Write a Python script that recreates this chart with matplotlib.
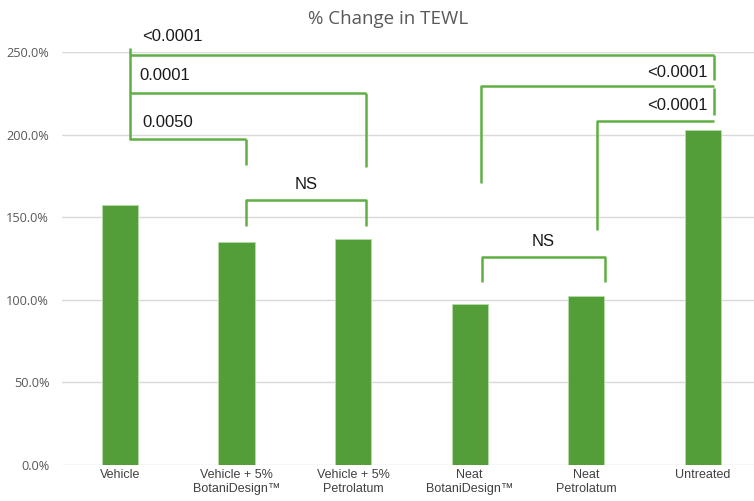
import matplotlib.pyplot as plt
from matplotlib.ticker import FuncFormatter

# data
categories = ["Vehicle", "Vehicle + 5%\nBotaniDesign\u2122", "Vehicle + 5%\nPetrolatum",
              "Neat\nBotaniDesign\u2122", "Neat\nPetrolatum", "Untreated"]
values = [157.4, 135.0, 136.8, 97.5, 102.3, 202.8]
y_ticks = [0, 50, 100, 150, 200, 250]

# significance labels
p_labels = ["<0.0001", "0.0001", "0.0050", "NS", "<0.0001", "<0.0001", "NS"]

bar_color = "#549E39"
line_color = "#5FAF43"

fig = plt.figure(figsize=(7.54, 5.01), dpi=100)
ax = fig.add_axes([61.7 / 754, 36 / 501, (754 - 61.7) / 754, 413 / 501])

x = list(range(len(categories)))
ax.bar(x, values, width=0.31, color=bar_color, edgecolor="#B7DCA8", linewidth=0.6, zorder=3)

ax.set_xlim(-0.5, 5.44)
ax.set_ylim(0, 250)
ax.set_yticks(y_ticks)
ax.yaxis.set_major_formatter(FuncFormatter(lambda v, p: f"{v:.1f}%"))
ax.set_xticks(x)
ax.set_xticklabels(categories, fontfamily="Liberation Sans", fontsize=9, color="#404040")
ax.tick_params(axis="y", length=0, pad=9, labelsize=9.2, labelcolor="#595959")
ax.tick_params(axis="x", length=0, pad=3)
for lab in ax.get_yticklabels():
    lab.set_fontfamily("Open Sans")
ax.grid(axis="y", color="#D9D9D9", linewidth=1, zorder=0)
for s in ax.spines.values():
    s.set_visible(False)

ax.set_title("% Change in TEWL", fontfamily="Open Sans", fontsize=13.5, color="#595959",
             pad=20.5, x=0.471)

def seg(xs, ys):
    ax.plot(xs, ys, color=line_color, linewidth=1.8, clip_on=False, zorder=4, solid_capstyle="butt")

txt = dict(fontfamily="Liberation Sans", fontsize=12, color="#1A1A1A", va="center")

# shared left leg from Vehicle
seg([0.086, 0.086], [252.4, 196.7])
# Vehicle vs Untreated
seg([0.086, 5.094], [248.2, 248.2])
seg([5.094, 5.094], [248.2, 233.0])
ax.text(0.19, 259.5, p_labels[0], **txt)
# Vehicle vs Vehicle + 5% Petrolatum
seg([0.086, 2.11], [225.2, 225.2])
seg([2.11, 2.11], [225.2, 180.4])
ax.text(0.17, 235.5, p_labels[1], **txt)
# Vehicle vs Vehicle + 5% BotaniDesign
seg([0.086, 1.08], [197.3, 197.3])
seg([1.08, 1.08], [197.3, 181.6])
ax.text(0.19, 207.5, p_labels[2], **txt)
# NS between the two vehicle blends
seg([1.08, 1.08, 2.11, 2.11], [144.7, 160.4, 160.4, 144.7])
ax.text(1.595, 169.5, p_labels[3], ha="center", **txt)
# Neat BotaniDesign vs Untreated
seg([3.096, 3.096, 5.094], [170.7, 229.4, 229.4])
seg([5.094, 5.094], [228.2, 211.9])
ax.text(5.04, 237.5, p_labels[4], ha="right", **txt)
# Neat Petrolatum vs Untreated
seg([4.09, 4.09, 5.094], [142.3, 208.2, 208.2])
ax.text(5.04, 217.5, p_labels[5], ha="right", **txt)
# NS between the neat products
seg([3.11, 3.11, 4.16, 4.16], [110.8, 125.9, 125.9, 110.8])
ax.text(3.63, 135.5, p_labels[6], ha="center", **txt)

plt.savefig("out.png", dpi=100)
